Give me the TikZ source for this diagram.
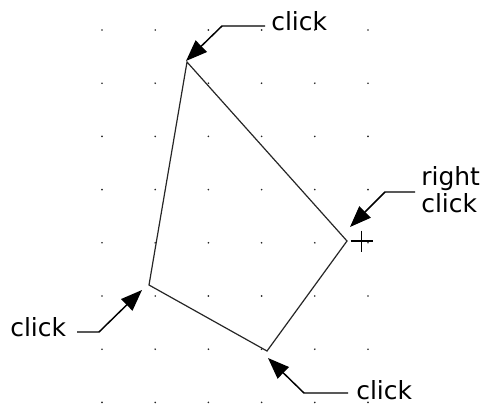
\documentclass[tikz,border=0pt]{standalone}
\usepackage{fontspec}
\setmainfont{DejaVu Sans}
\usetikzlibrary{arrows.meta}
\begin{document}
\begin{tikzpicture}[x=0.75pt,y=-0.75pt,
  lbl/.style={inner sep=0pt, font=\fontsize{18.75}{20.25}\selectfont},
  edge/.style={draw=black!85, line width=0.9pt, line join=miter},
  leader/.style={draw, line width=1.1pt, -{Triangle[length=16pt,width=12pt]}},
  gdot/.style={fill=black!85}]
\useasboundingbox (0,0) rectangle (488,404);
% dot grid
\foreach \i in {0,...,5} \foreach \j in {0,...,7}
  \fill[gdot] (102+53.2*\i, 30+53.2*\j) circle[radius=0.7pt];
% polygon vertices
\coordinate (vt) at (187,62);
\coordinate (vr) at (347,241);
\coordinate (vb) at (267,351);
\coordinate (vl) at (149,285);
\draw[edge] (vt) -- (vr) -- (vb) -- (vl) -- cycle;
% cursor cross
\coordinate (cc) at (361.5,241);
\draw[line width=0.8pt] (cc) ++(-11,0) -- ++(22,0);
\draw[line width=0.8pt] (cc) ++(0,-10.5) -- ++(0,21);
% labels
\node[lbl, anchor=base west] (ltop) at (271,30) {click};
\node[lbl, anchor=north west, align=left] (lright) at (421,166) {right\\click};
\node[lbl, anchor=base west] (lleft) at (10,336) {click};
\node[lbl, anchor=base west] (lbot) at (356,399) {click};
% leaders
\coordinate (stop) at (265,26);  \coordinate (ktop) at (222,26);  \coordinate (ttop) at (186,61);
\coordinate (sright) at (415,192); \coordinate (kright) at (385,192); \coordinate (tright) at (350,227);
\coordinate (sleft) at (77,332); \coordinate (kleft) at (99,332); \coordinate (tleft) at (142,290);
\coordinate (sbot) at (348,393); \coordinate (kbot) at (304,393); \coordinate (tbot) at (268,358);
\draw[leader] (stop) -- (ktop) -- (ttop);
\draw[leader] (sright) -- (kright) -- (tright);
\draw[leader] (sleft) -- (kleft) -- (tleft);
\draw[leader] (sbot) -- (kbot) -- (tbot);
\end{tikzpicture}
\end{document}
